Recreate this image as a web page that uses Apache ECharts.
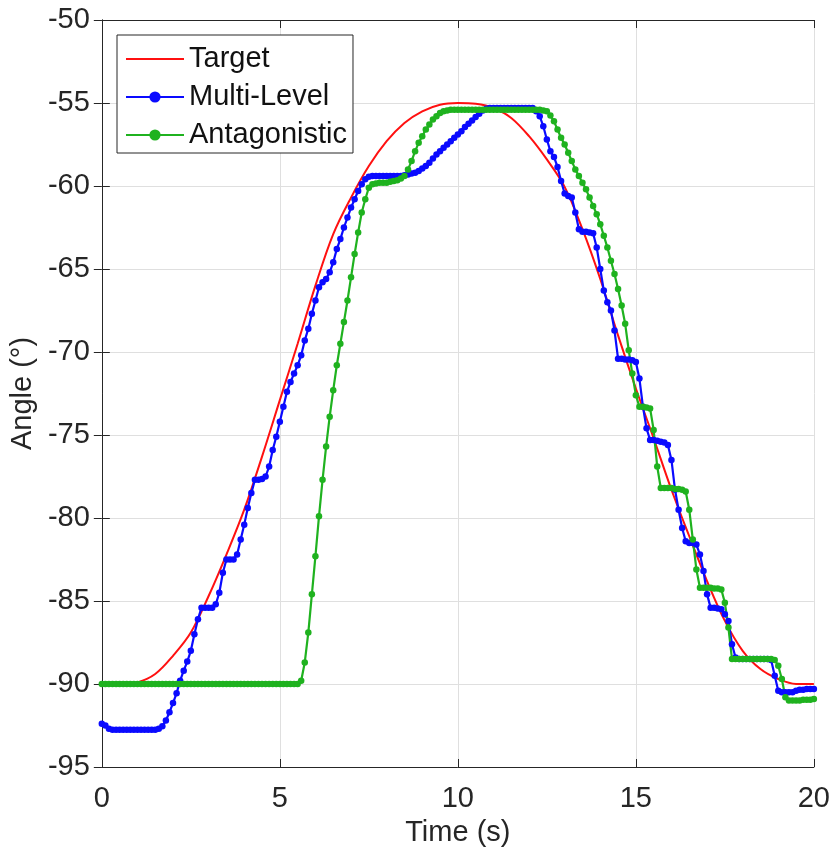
<!DOCTYPE html>
<html>
<head>
<meta charset="utf-8">
<script src="https://cdn.jsdelivr.net/npm/echarts@6/dist/echarts.min.js"></script>
<style>
html,body{margin:0;padding:0;background:#fff;}
#chart{width:833px;height:857px;}
</style>
</head>
<body>
<div id="chart"></div>
<script>
// Sample step of the measured series (markers every 0.1 s)
const sampleStep = 0.1;
const targetStep = 0.5;

const seriesNames = ['Target', 'Multi-Level', 'Antagonistic'];
const xTicks = [0, 5, 10, 15, 20];
const yTicks = [-95, -90, -85, -80, -75, -70, -65, -60, -55, -50];

// Target angle, read every 0.5 s from 0 to 20 s
const targetValues = [
  -90, -90, -89.9, -89.4, -88.3, -86.9, -84.7, -82.2, -79.5, -76.3,
  -72.9, -69.5, -66.0, -62.9, -60.7, -58.8, -57.3, -56.2, -55.5, -55.1,
  -55.0, -55.05, -55.3, -55.9, -57.0, -58.4, -60.05, -62.6, -65.6, -69.0,
  -72.2, -75.2, -78.3, -81.1, -83.8, -86.2, -88.0, -89.1, -89.7, -90.0,
  -90.0
];

// Multi-Level, read every 0.1 s from 0 to 20 s
const multiLevelValues = [
  -92.4, -92.5, -92.7, -92.75, -92.75, -92.75, -92.75, -92.75, -92.75, -92.75,
  -92.75, -92.75, -92.75, -92.75, -92.75, -92.75, -92.7, -92.55, -92.2, -91.7,
  -91.15, -90.55, -89.8, -89.2, -88.65, -88.0, -87.0, -86.1, -85.4, -85.4,
  -85.4, -85.4, -85.2, -84.5, -83.3, -82.5, -82.5, -82.5, -82.2, -81.3,
  -80.4, -79.4, -78.5, -77.7, -77.7, -77.65, -77.5, -76.9, -75.9, -75.1,
  -74.2, -73.3, -72.4, -71.8, -71.3, -70.8, -70.2, -69.3, -68.6, -67.7,
  -66.9, -66.1, -65.8, -65.6, -65.2, -64.6, -63.8, -63.2, -62.5, -61.9,
  -61.3, -60.8, -60.3, -59.9, -59.6, -59.45, -59.4, -59.4, -59.4, -59.4,
  -59.4, -59.4, -59.4, -59.4, -59.4, -59.35, -59.3, -59.25, -59.2, -59.1,
  -58.95, -58.8, -58.6, -58.35, -58.1, -57.9, -57.7, -57.5, -57.3, -57.1,
  -56.9, -56.7, -56.45, -56.25, -56.05, -55.85, -55.65, -55.45, -55.35, -55.3,
  -55.3, -55.3, -55.3, -55.3, -55.3, -55.3, -55.3, -55.3, -55.3, -55.3,
  -55.3, -55.3, -55.5, -55.8, -56.4, -57.2, -57.9, -58.25, -58.85, -59.7,
  -60.45, -60.6, -60.7, -61.6, -62.6, -62.75, -62.75, -62.8, -62.85, -63.7,
  -65.0, -66.3, -67.0, -67.5, -68.7, -70.4, -70.4, -70.45, -70.45, -70.5,
  -70.6, -71.6, -73.3, -74.6, -75.3, -75.3, -75.35, -75.4, -75.45, -75.6,
  -76.5, -78.3, -79.5, -80.6, -81.4, -81.5, -81.5, -81.6, -82.2, -83.2,
  -84.6, -85.4, -85.4, -85.45, -85.5, -85.8, -86.2, -87.6, -88.4, -88.5,
  -88.5, -88.5, -88.5, -88.5, -88.5, -88.5, -88.5, -88.5, -88.55, -89.5,
  -90.4, -90.5, -90.5, -90.5, -90.5, -90.4, -90.35, -90.35, -90.3, -90.3,
  -90.3
];

// Antagonistic, read every 0.1 s from 0 to 20 s
const antagonisticValues = [
  -90, -90, -90, -90, -90, -90, -90, -90, -90, -90,
  -90, -90, -90, -90, -90, -90, -90, -90, -90, -90,
  -90, -90, -90, -90, -90, -90, -90, -90, -90, -90,
  -90, -90, -90, -90, -90, -90, -90, -90, -90, -90,
  -90, -90, -90, -90, -90, -90, -90, -90, -90, -90,
  -90, -90, -90, -90, -90, -90, -89.8, -88.7, -86.9, -84.6,
  -82.3, -79.9, -77.7, -75.7, -73.9, -72.3, -70.8, -69.5, -68.2, -66.9,
  -65.5, -64.1, -62.8, -61.6, -60.8, -60.1, -59.9, -59.85, -59.8, -59.8,
  -59.8, -59.75, -59.7, -59.65, -59.55, -59.4, -59.0, -58.5, -57.9, -57.4,
  -57.0, -56.6, -56.3, -56.0, -55.8, -55.6, -55.5, -55.45, -55.4, -55.4,
  -55.4, -55.4, -55.4, -55.4, -55.4, -55.4, -55.4, -55.4, -55.4, -55.4,
  -55.4, -55.4, -55.4, -55.4, -55.4, -55.4, -55.4, -55.4, -55.4, -55.4,
  -55.4, -55.4, -55.4, -55.4, -55.45, -55.5, -55.75, -56.1, -56.6, -57.1,
  -57.5, -58.0, -58.5, -59.0, -59.4, -59.8, -60.2, -60.7, -61.2, -61.7,
  -62.3, -63.0, -63.7, -64.5, -65.3, -66.2, -67.2, -68.3, -69.9, -71.3,
  -72.6, -73.3, -73.3, -73.35, -73.4, -74.7, -76.9, -78.2, -78.2, -78.2,
  -78.2, -78.25, -78.25, -78.3, -78.4, -79.5, -81.3, -83.1, -84.2, -84.2,
  -84.2, -84.2, -84.25, -84.25, -84.3, -85.1, -86.6, -88.5, -88.5, -88.5,
  -88.5, -88.5, -88.5, -88.5, -88.5, -88.5, -88.5, -88.5, -88.5, -88.55,
  -88.9, -89.7, -90.8, -91.0, -91.0, -91.0, -91.0, -90.95, -90.95, -90.95,
  -90.9
];

function pair(values, step) {
  return values.map((v, i) => [+(i * step).toFixed(2), v]);
}

const FONT = 'Liberation Sans, Arial, Helvetica, sans-serif';
const TXT = '#262626';
const FS = 29;

const chart = echarts.init(document.getElementById('chart'), null, {renderer: 'canvas'});

const baseX = {
  type: 'value', min: xTicks[0], max: xTicks[xTicks.length - 1], interval: 5
};
const baseY = {
  type: 'value', min: yTicks[0], max: yTicks[yTicks.length - 1], interval: 5
};

chart.setOption({
  animation: false,
  backgroundColor: '#fff',
  grid: {left: 100, right: 17, top: 20, bottom: 90, containLabel: false},
  legend: {
    orient: 'vertical',
    left: 117, top: 35,
    data: [
      {name: seriesNames[0], icon: 'path://M0,0 L100,0 L100,3.2 L0,3.2 Z'},
      {name: seriesNames[1]},
      {name: seriesNames[2]}
    ],
    backgroundColor: '#fff',
    borderColor: '#262626',
    borderWidth: 1,
    borderRadius: 0,
    padding: [8, 6, 2, 8],
    itemGap: 6,
    itemWidth: 58,
    itemHeight: 14,
    textStyle: {fontFamily: FONT, fontSize: FS, color: '#111', lineHeight: 32, padding: [0, 0, 0, 0]}
  },
  xAxis: [
    Object.assign({}, baseX, {
      position: 'bottom',
      name: 'Time (s)', nameLocation: 'middle', nameGap: 51,
      nameTextStyle: {fontFamily: FONT, fontSize: FS, color: TXT},
      axisLine: {show: true, lineStyle: {color: TXT, width: 1}},
      axisTick: {show: true, inside: true, length: 8, lineStyle: {color: TXT}},
      axisLabel: {fontFamily: FONT, fontSize: FS, color: TXT, margin: 17},
      splitLine: {show: true, lineStyle: {color: '#dfdfdf', width: 1}}
    }),
    Object.assign({}, baseX, {
      position: 'top',
      axisLine: {show: true, lineStyle: {color: TXT, width: 1}},
      axisTick: {show: true, inside: true, length: 8, lineStyle: {color: TXT}},
      axisLabel: {show: false},
      splitLine: {show: false}
    })
  ],
  yAxis: [
    Object.assign({}, baseY, {
      position: 'left',
      name: 'Angle (°)', nameLocation: 'middle', nameGap: 56,
      nameTextStyle: {fontFamily: FONT, fontSize: FS, color: TXT},
      axisLine: {show: true, lineStyle: {color: TXT, width: 1}},
      axisTick: {show: true, inside: true, length: 8, lineStyle: {color: TXT}},
      axisLabel: {fontFamily: FONT, fontSize: FS, color: TXT, margin: 12},
      splitLine: {show: true, lineStyle: {color: '#dfdfdf', width: 1}}
    }),
    Object.assign({}, baseY, {
      position: 'right',
      axisLine: {show: true, lineStyle: {color: TXT, width: 1}},
      axisTick: {show: true, inside: true, length: 8, lineStyle: {color: TXT}},
      axisLabel: {show: false},
      splitLine: {show: false}
    })
  ],
  series: [
    {
      name: seriesNames[0], type: 'line',
      data: pair(targetValues, targetStep),
      smooth: 0.35,
      showSymbol: false, symbol: 'none',
      lineStyle: {color: '#ff1010', width: 2},
      itemStyle: {color: '#ff1010'}
    },
    {
      name: seriesNames[1], type: 'line',
      data: pair(multiLevelValues, sampleStep),
      symbol: 'circle', symbolSize: 6.5, showAllSymbol: true,
      lineStyle: {color: '#0a0aff', width: 2.2},
      itemStyle: {color: '#0a0aff'}
    },
    {
      name: seriesNames[2], type: 'line',
      data: pair(antagonisticValues, sampleStep),
      symbol: 'circle', symbolSize: 6.5, showAllSymbol: true,
      lineStyle: {color: '#1fb21f', width: 2.2},
      itemStyle: {color: '#1fb21f'}
    }
  ]
});
</script>
</body>
</html>
